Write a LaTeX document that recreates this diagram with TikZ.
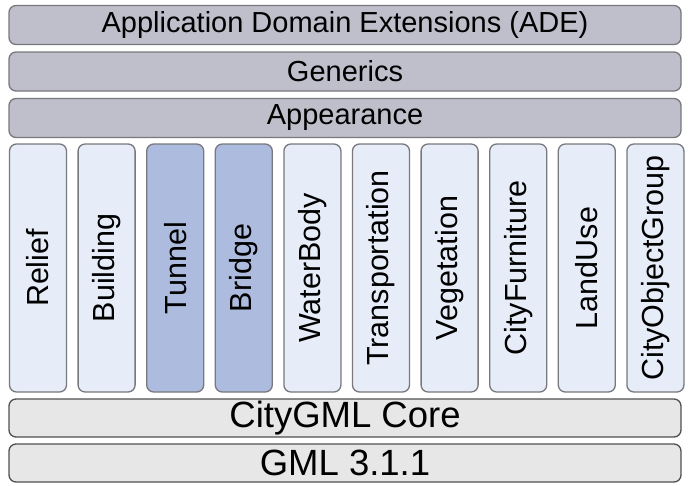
\documentclass[tikz,border=0pt]{standalone}
\usepackage{fontspec}
\setmainfont{Liberation Sans}
\definecolor{topfill}{RGB}{191,191,204}
\definecolor{colfill}{RGB}{231,237,248}
\definecolor{darkcol}{RGB}{173,187,222}
\definecolor{corefill}{RGB}{231,231,231}
\definecolor{edge}{RGB}{120,120,125}
\definecolor{coreedge}{RGB}{80,80,80}
\tikzset{
  bar/.style={draw=edge, line width=1.3pt, fill=topfill, rounded corners=7pt, inner sep=0pt,
    minimum width=672pt, minimum height=39pt, font=\fontsize{29}{29}\selectfont},
  corebar/.style={bar, draw=coreedge, fill=corefill, minimum height=38pt, font=\fontsize{36.5}{36.5}\selectfont},
  col/.style={draw=edge, line width=1.3pt, fill=colfill, rounded corners=7pt, inner sep=0pt,
    minimum width=57pt, minimum height=248pt},
  dcol/.style={col, fill=darkcol},
  coltext/.style={rotate=90, font=\fontsize{30.5}{30.5}\selectfont, inner sep=0pt}
}
\begin{document}
\begin{tikzpicture}[x=1pt,y=-1pt]
\useasboundingbox (0,0) rectangle (688,485);
\node[bar] (ade) at (345,25) {Application Domain Extensions (ADE)};
\node[bar] (gen) at (345,71.5) {Generics};
\node[bar] (app) at (345,118) {Appearance};
\node[corebar] (core) at (345,418) {CityGML Core};
\node[corebar] (gml) at (345,463) {GML 3.1.1};
\foreach \name/\txt/\st [count=\i from 0] in {relief/Relief/col, building/Building/col, tunnel/Tunnel/dcol, bridge/Bridge/dcol, water/WaterBody/col, trans/Transportation/col, veg/Vegetation/col, furn/CityFurniture/col, land/LandUse/col, group/CityObjectGroup/col}{
  \node[\st] (\name) at ({38+68.6*\i},268) {};
  \node[coltext] (\name-t) at (\name) {\txt};
}
\end{tikzpicture}
\end{document}
